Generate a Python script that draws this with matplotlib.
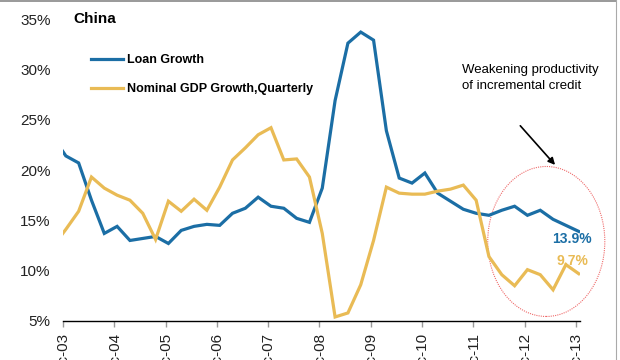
import matplotlib
matplotlib.use("Agg")
import matplotlib.pyplot as plt
from matplotlib.lines import Line2D
from matplotlib.patches import Ellipse
import numpy as np

plt.rcParams['font.family'] = ['Liberation Sans', 'DejaVu Sans']

# Quarterly series, Sep-03 .. Dec-13 (first point sits just left of the axis)
loan_growth = [23.3, 21.4, 20.7, 17.0, 13.7, 14.4, 13.0, 13.2, 13.4, 12.7,
               14.0, 14.4, 14.6, 14.5, 15.7, 16.2, 17.3, 16.4, 16.2, 15.2,
               14.8, 18.2, 26.9, 32.6, 33.7, 32.9, 23.9, 19.2, 18.7, 19.7,
               17.7, 16.9, 16.1, 15.7, 15.5, 16.0, 16.4, 15.5, 16.0, 15.1,
               14.5, 13.9]
gdp_growth = [12.4, 14.1, 15.9, 19.3, 18.2, 17.5, 17.0, 15.7, 13.1, 16.9,
              15.9, 17.1, 16.0, 18.3, 21.0, 22.2, 23.5, 24.2, 21.0, 21.1,
              19.3, 13.7, 5.4, 5.8, 8.6, 13.0, 18.3, 17.7, 17.6, 17.6,
              17.9, 18.1, 18.5, 17.0, 11.4, 9.6, 8.5, 10.1, 9.6, 8.1,
              10.6, 9.7]
tick_labels = ['Dec-03', 'Dec-04', 'Dec-05', 'Dec-06', 'Dec-07', 'Dec-08',
               'Dec-09', 'Dec-10', 'Dec-11', 'Dec-12', 'Dec-13']
y_ticks = [5, 10, 15, 20, 25, 30, 35]

blue = '#1b6ea5'
gold = '#e9bb55'

x = np.arange(len(loan_growth)) - 1  # quarter index, Dec-03 = 0
off = 0.22  # ticks sit a bit before the quarter-end points

fig = plt.figure(figsize=(6.2, 3.6), dpi=100)
ax = fig.add_axes([63 / 620, 1 - 321 / 360, (580 - 63) / 620, (321 - 19) / 360])

ax.plot(x, loan_growth, color=blue, lw=2.3, label='Loan Growth', solid_joinstyle='miter')
ax.plot(x, gdp_growth, color=gold, lw=2.3, label='Nominal GDP Growth,Quarterly', solid_joinstyle='miter')

ax.set_xlim(-off, 40.1)
ax.set_ylim(5, 35)
ax.set_yticks(y_ticks)
ax.set_yticklabels([f'{v}%' for v in y_ticks])
ax.set_xticks(np.arange(0, 41, 4) - off)
ax.set_xticklabels(tick_labels, rotation=90)

for s in ['top', 'right', 'left']:
    ax.spines[s].set_visible(False)
ax.spines['bottom'].set_color('black')
ax.spines['bottom'].set_linewidth(1.0)
ax.tick_params(axis='y', length=0, pad=9, labelsize=11, labelcolor='#222222')
ax.tick_params(axis='x', length=4, width=1, color='#999999', pad=4,
               labelsize=11, labelcolor='#222222')

# legend
ax.legend(loc='upper left', bbox_to_anchor=(91 / 620, 1 - 54 / 360),
          bbox_transform=fig.transFigure, frameon=False, borderpad=0,
          borderaxespad=0, handlelength=2.6, handletextpad=0.25,
          labelspacing=1.35, prop={'weight': 'bold', 'size': 9})

fig.text(73 / 620, 1 - 19 / 360, 'China', fontsize=11, fontweight='bold', va='center')

# end labels
ax.text(37.9, 13.1, '13.9%', color=blue, fontsize=10, fontweight='bold', va='center')
ax.text(38.3, 11.0, '9.7%', color=gold, fontsize=10, fontweight='bold', va='center')

# annotation
fig.text(462 / 620, 1 - 78 / 360, 'Weakening productivity\nof incremental credit',
         fontsize=9.5, va='center', ha='left', linespacing=1.4)
ax.annotate('', xy=(38.3, 20.3), xytext=(35.3, 24.6),
            arrowprops=dict(arrowstyle='-|>', color='black', lw=1.2, mutation_scale=10))
ax.add_patch(Ellipse((37.47, 12.9), 9.13, 14.9, fill=False, ec='#ef6a6a',
                     lw=0.8, ls=(0, (1, 1)), clip_on=False))

# outer frame pieces
fig.add_artist(Line2D([0, 616 / 620], [1 - 0.8 / 360] * 2, color='#888888', lw=1.2))
fig.add_artist(Line2D([616 / 620] * 2, [0, 1], color='#aaaaaa', lw=0.8))

fig.savefig('out.png', dpi=100)
